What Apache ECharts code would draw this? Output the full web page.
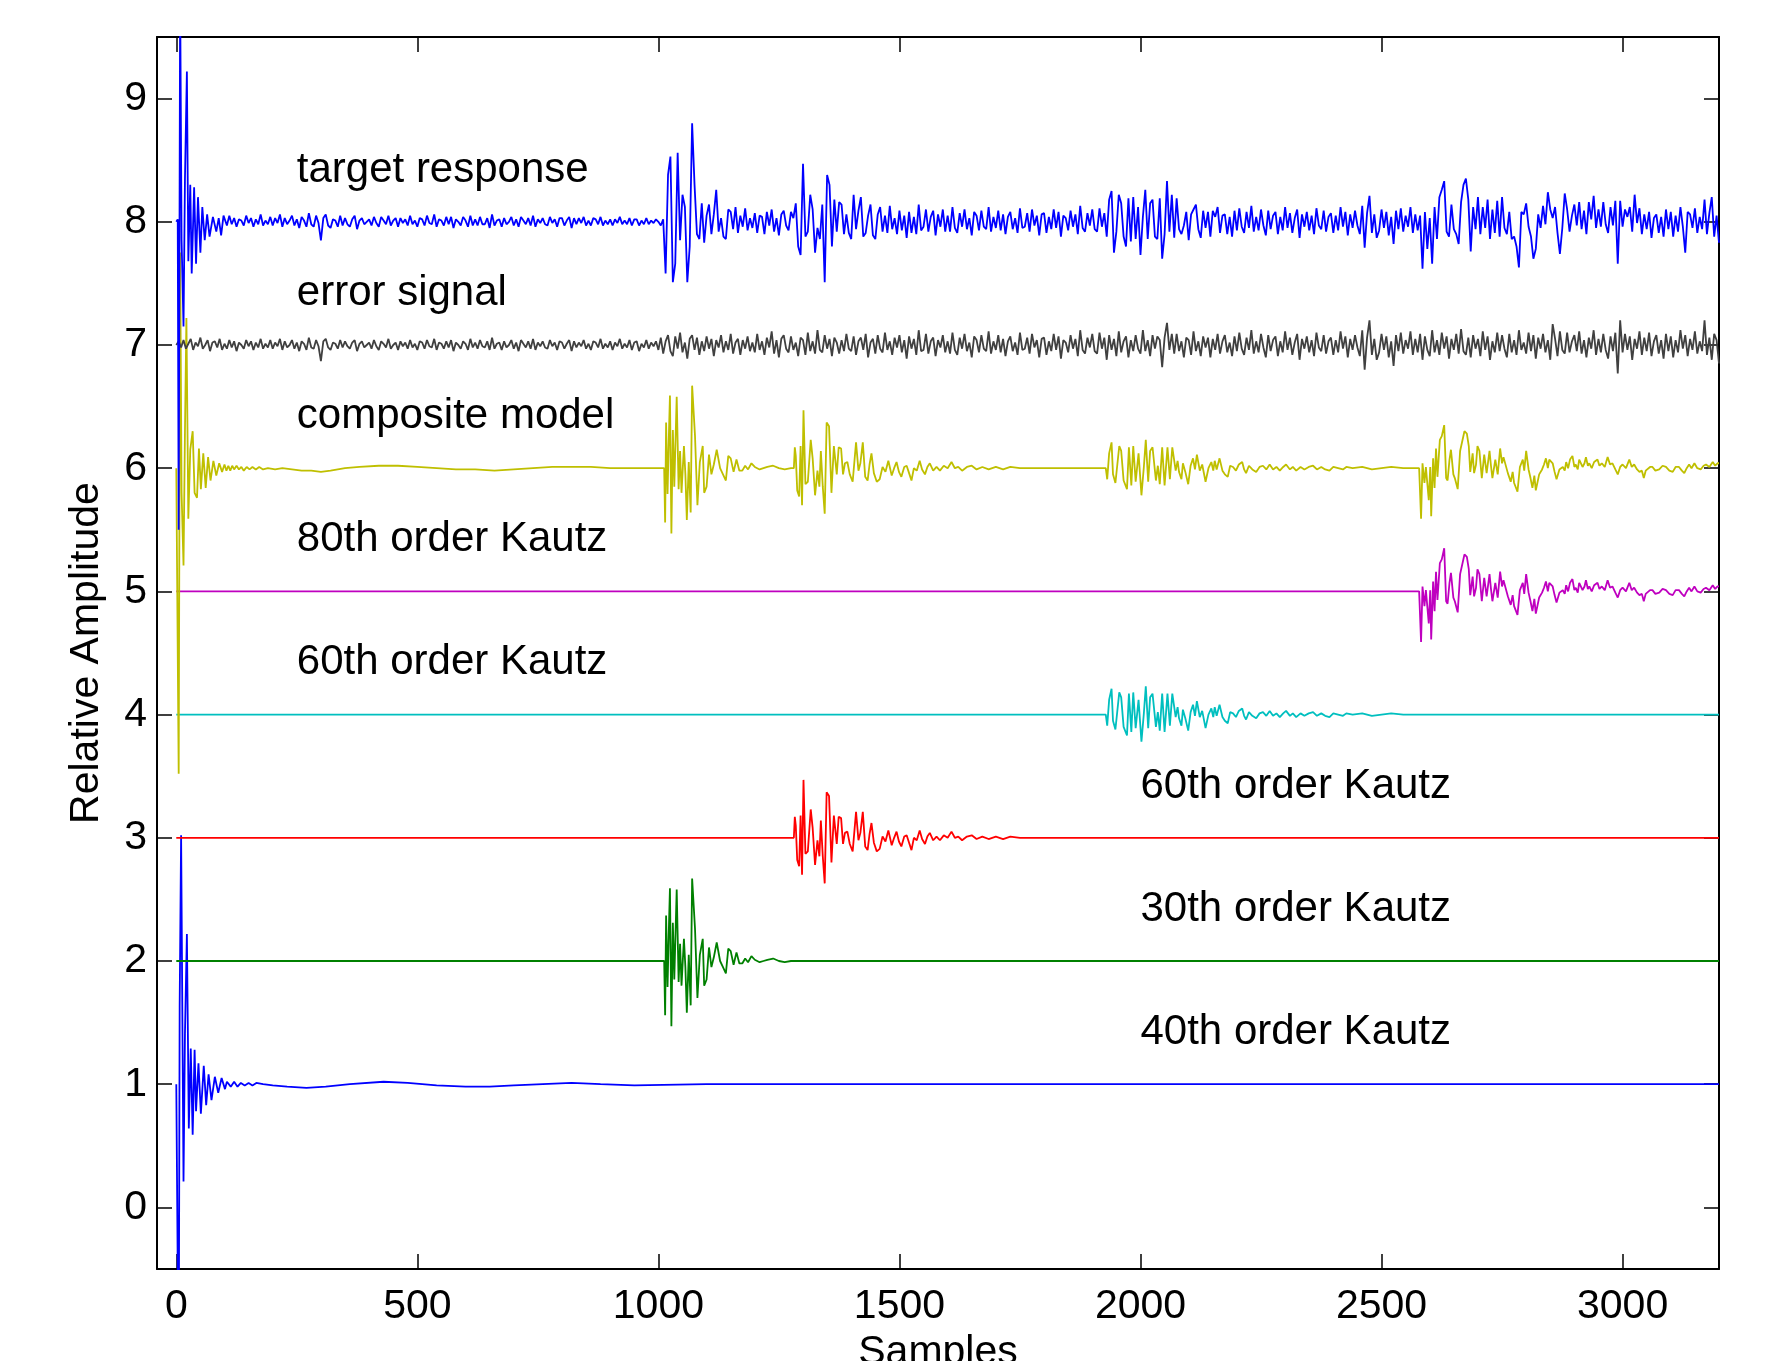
<!DOCTYPE html>
<html>
<head>
<meta charset="utf-8">
<title>Kautz model responses</title>
<script src="https://cdn.jsdelivr.net/npm/echarts@6/dist/echarts.min.js"></script>
<style>
html, body { margin: 0; height: 100%; background: #fff; }
</style>
</head>
<body>
<div id="main" style="width:1765px;height:1361px;"></div>
<script>
// tick labels
var xTicks = [0, 500, 1000, 1500, 2000, 2500, 3000];
var yTicks = [0, 1, 2, 3, 4, 5, 6, 7, 8, 9];

// every trace is drawn around its own baseline
var offsets = { target: 8, error: 7, composite: 6, k80: 5, k60a: 4, k60b: 3, k30: 2, k40: 1 };

// values are deviations in hundredths of an amplitude unit
var UNIT = 0.01;
// sample spacing of the "body" lists
var STEP = 5;

// text labels: [sample, amplitude, text]
var labels = [
  [250, 8.42, 'target response'],
  [250, 7.42, 'error signal'],
  [250, 6.42, 'composite model'],
  [250, 5.42, '80th order Kautz'],
  [250, 4.42, '60th order Kautz'],
  [2000, 3.42, '60th order Kautz'],
  [2000, 2.42, '30th order Kautz'],
  [2000, 1.42, '40th order Kautz']
];

// target response: onset as [sample, value], then values every STEP samples from 100
var targetHead = [[0,0],[3,2],[5,-250],[8,185],[11,-15],[15,-85],[18,35],[22,122],[25,-32],[29,30],[32,-42],[37,28],[41,-34],[45,20],[50,-25],[54,12],[59,-15],[64,6],[69,-12],[76,4],[83,-8],[88,3],[93,-11],[98,5]];
var targetBody = [
  4,-3,5,-2,3,-4,2,1,-3,5,-1,3,-4,2,-2,6,-3,1,-2,4,
  -3,3,-1,6,-4,3,-2,1,5,-3,2,-5,4,1,-4,7,-2,-4,5,-1,
  -15,3,6,-3,-5,2,1,-4,5,-3,3,-2,-4,2,5,-6,1,3,-2,0,
  2,-3,4,-1,-4,4,1,-2,5,-3,1,3,-4,3,-1,2,-3,5,-2,1,
  -4,3,2,-3,5,-1,-2,6,-4,2,1,-3,4,-2,4,-5,2,0,-3,4,
  1,-4,5,-3,2,-3,4,-2,-2,3,-5,6,-3,1,2,-4,3,-2,0,4,
  -3,2,-4,4,1,-2,3,-3,5,-4,2,-1,3,-2,-3,4,-1,2,-4,3,
  3,-3,1,4,-5,3,-2,3,-1,4,-3,1,-3,3,2,-2,4,-3,1,-2,
  2,-3,2,-1,4,-2,1,-2,3,-3,2,2,-3,1,-2,3,-2,1,-1,2,
  0,-3,2,-42,38,53,-49,-34,56,-15,22,12,-49,-20,80,30,-10,-14,15,-17,
  5,14,-10,6,26,-8,3,-12,-14,10,8,-6,12,-9,5,-4,11,-7,3,-5,
  7,-9,5,4,-10,8,-3,10,-8,3,-11,6,9,-3,-7,8,3,15,-20,-27,
  47,-12,-8,22,10,-25,-5,-14,14,-49,38,30,-20,18,-8,16,14,-10,6,-9,
  -14,22,-6,9,20,-12,-9,5,14,-11,-14,6,12,-8,5,-9,13,-6,3,-10,
  9,-7,5,-13,8,-9,4,-10,14,-7,-4,10,-8,4,9,-11,6,-4,10,-8,
  5,-8,12,-5,-9,7,-4,10,-6,3,-11,8,5,-7,9,-4,-6,12,-8,4,
  -5,9,-7,6,-10,4,8,-6,3,-9,11,-5,-4,7,-8,10,-3,5,-11,6,
  7,-9,4,-6,10,-5,8,-12,5,3,-7,9,-4,6,-10,13,-5,-8,7,-3,
  10,-6,-8,11,-4,7,-12,18,25,-25,-8,22,15,-12,-20,19,-16,20,-14,12,
  -27,4,26,-14,15,18,-12,-14,19,-30,-10,33,-8,22,-13,19,-6,-10,-3,8,
  -15,6,10,14,-6,-13,9,-5,8,-12,9,4,12,-9,5,6,-10,4,-12,9,
  -7,11,-4,-9,8,-5,13,-8,4,-7,10,-3,-11,9,-6,5,8,-10,4,-7,
  12,-5,7,-9,3,10,-13,6,-4,8,-7,5,-10,11,-3,-6,9,-8,4,7,
  -9,5,-7,12,-4,8,-11,6,-5,9,-3,-10,13,-21,7,21,-9,6,-13,-7,
  10,-5,8,-11,4,-18,9,-6,11,-8,5,-4,12,-9,6,-7,5,-38,8,-22,
  3,-34,12,-14,20,26,33,-8,-12,14,-6,-10,-18,16,30,35,18,-24,12,-6,
  20,-10,12,-5,18,-14,10,-9,17,-12,20,-5,-10,8,-14,-12,-20,-37,8,6,
  15,-4,-12,-30,-22,6,-5,13,-2,24,10,3,12,-9,-26,-5,23,10,-8,5,
  14,-3,16,-6,9,-10,16,2,21,-5,10,-4,16,-2,-9,12,-3,17,-34,17,
  -4,10,4,12,-8,22,-1,11,-10,6,-6,8,-13,3,6,-9,4,-12,10,-6,
  8,-12,5,-8,12,-4,-25,8,6,-5,11,-9,4,-6,18,-10,7,20,-12,5,
  -17
];

// error signal: values every STEP samples from 0
var errorBody = [
  0,3,-2,4,-3,1,5,-4,2,-1,6,-3,0,4,-5,2,3,-2,5,-4,
  1,-3,4,-2,3,-5,2,0,-3,4,-1,3,-4,2,-2,5,-3,1,-2,4,
  -3,2,-1,5,-4,3,-2,0,4,-3,2,-5,3,1,-4,6,-2,-3,4,-1,
  -13,3,5,-2,-4,2,1,-3,4,-2,3,-1,-3,2,4,-5,1,3,-2,0,
  2,-3,4,-1,-4,3,1,-2,5,-3,0,2,-4,3,-1,2,-3,4,-2,1,
  -4,3,2,-3,4,-1,-2,5,-4,2,1,-3,3,-2,4,-5,2,0,-3,3,
  1,-4,5,-2,2,-3,4,-1,-2,3,-4,6,-3,1,2,-4,3,-2,0,4,
  -3,2,-5,4,1,-2,3,-3,5,-4,2,-1,3,-2,-3,4,-1,2,-4,3,
  2,-3,1,4,-5,3,-2,2,-1,4,-3,1,-4,3,2,-2,5,-3,1,-2,
  3,-4,2,-1,5,-3,1,-2,4,-4,2,3,-5,1,-2,4,-3,2,-1,3,
  -4,6,-7,3,8,-5,-9,7,-3,10,-6,2,-11,5,8,-4,6,-8,3,-5,
  7,-3,5,-9,4,-2,8,-6,3,-4,9,-7,2,5,-8,4,-3,7,-5,2,
  -6,9,-4,3,-8,6,-2,11,-7,4,-10,5,8,-3,-6,7,-4,2,-9,6,
  4,-8,10,-5,3,-7,12,-4,-6,8,-3,5,-9,6,2,-7,4,-5,9,-3,
  -5,7,-8,3,6,-4,9,-10,2,5,-7,8,-3,-6,10,-4,3,-8,6,-2,
  8,-6,4,-11,7,-3,5,-8,12,-5,-4,9,-7,3,6,-9,4,-2,8,-6,
  3,-7,10,-4,-8,6,-3,9,-5,2,-10,7,4,-6,8,-3,-5,11,-7,3,
  -4,8,-6,5,-9,3,7,-5,2,-8,10,-4,-3,6,-7,9,-2,4,-10,5,
  6,-8,3,-5,9,-4,7,-11,4,2,-6,8,-3,5,-9,12,-4,-7,6,-2,
  9,-5,-7,10,-3,6,-12,8,-4,5,-9,11,-6,3,7,-10,4,-5,8,-3,
  -7,12,-5,4,-9,8,-3,7,4,-18,6,18,-4,9,-7,9,-5,3,-10,6,
  4,-8,11,-5,3,-9,7,-2,6,-10,5,-4,9,-7,3,8,-6,2,-9,7,
  -5,10,-3,-8,6,-4,12,-7,3,-6,9,-2,-10,8,-5,4,7,-9,3,-6,
  11,-4,6,-8,2,9,-12,5,-3,7,-6,4,-9,10,-2,-5,8,-7,3,6,
  -8,4,-6,11,-3,7,-10,5,-4,8,-2,-9,12,-20,6,20,-8,5,-12,-6,
  9,-4,7,-10,3,-17,8,-5,10,-7,4,-3,11,-8,5,-6,9,-12,7,-4,
  -9,12,-6,4,-8,10,-3,7,-11,5,-4,9,-7,13,-5,-8,6,-10,8,-3,
  5,-9,11,-4,7,-12,3,-6,10,-5,8,-3,-10,9,-6,4,-8,12,-4,2,
  -7,10,-5,8,-11,6,-3,9,-6,4,-12,17,5,-9,11,-4,-7,10,-6,3,
  8,-5,11,-7,4,-10,6,-3,12,-8,5,-6,9,-4,-11,7,-5,10,-23,20,
  -6,9,-4,7,-12,5,-3,11,-8,6,-5,10,-9,3,8,-7,4,-11,9,-5,
  7,-10,4,-6,12,-3,8,-9,5,-4,11,-7,3,-5,20,-8,6,-12,9,4,
  -15
];

// composite model: [sample, value]
var composite = [
  [0,0],[3,0],[5,-248],[8,175],[11,-20],[15,-79],[18,30],[21,122],[25,-41],[29,15],[34,30],[38,-20],[43,-24],[47,16],[51,-17],[56,12],[61,-16],[66,9],[71,-10],[77,6],[83,-6],[89,4],[95,-3],
  [100,3],[104,-2],[108,2],[112,-2],[116,2],[120,-1],[125,2],[130,-1],[135,1],[140,-2],[146,1],[152,-1],[158,1],[165,-1],[172,1],[180,-1],[190,0],[205,-1],[220,0],[240,-1],[260,-2],[280,-2],[300,-3],[320,-2],[350,0],[380,1],[420,2],[460,2],[500,1],[540,0],[580,-1],[620,-1],[660,-2],[700,-1],[740,0],[780,1],[820,1],[860,1],[900,0],[1012,0],
  [1014,-44],[1016,37],[1019,-21],[1022,30],[1024,59],[1027,-53],[1030,31],[1033,-15],[1038,58],[1042,-17],[1045,14],[1048,-20],[1053,18],[1056,-5],[1059,-42],[1063,5],[1067,-36],[1070,67],[1076,26],[1081,-30],[1086,5],[1092,18],[1095,-20],[1100,-15],[1105,11],[1110,-5],[1115,3],[1121,15],[1128,0],[1134,-5],[1140,-10],[1145,10],[1150,8],[1156,-3],[1162,7],[1168,-2],[1174,-2],[1180,2],[1186,-1],[1193,4],[1200,1],[1210,-1],[1218,0],[1226,1],[1238,2],[1250,0],[1262,-1],[1275,0],[1281,0],
  [1283,17],[1285,10],[1288,-18],[1292,-23],[1295,18],[1298,-30],[1301,47],[1305,-13],[1310,-11],[1316,23],[1320,8],[1325,-22],[1330,-2],[1334,-15],[1337,14],[1341,-15],[1345,-37],[1349,37],[1354,34],[1359,-20],[1364,18],[1370,-5],[1374,17],[1379,16],[1383,-5],[1387,4],[1392,5],[1397,-5],[1403,-11],[1410,21],[1415,-2],[1419,4],[1424,21],[1429,-7],[1434,-10],[1438,3],[1442,12],[1447,-4],[1453,-11],[1459,-9],[1465,1],[1471,-3],[1477,6],[1484,-6],[1489,0],[1494,5],[1499,-3],[1504,-7],[1510,1],[1515,2],[1520,-4],[1525,-10],[1530,0],[1536,-2],[1542,6],[1547,-1],[1553,-5],[1558,1],[1563,4],[1570,-2],[1577,1],[1584,-2],[1592,2],[1600,0],[1608,5],[1615,0],[1622,1],[1630,-2],[1640,1],[1650,2],[1660,-1],[1672,1],[1685,-1],[1700,1],[1715,-1],[1730,1],[1750,0],[1928,0],
  [1931,-9],[1935,12],[1940,21],[1943,-5],[1948,-12],[1952,3],[1956,18],[1960,14],[1965,-10],[1972,-17],[1976,17],[1981,-14],[1985,18],[1990,-11],[1996,12],[2002,-22],[2007,1],[2011,23],[2016,-11],[2020,14],[2025,17],[2032,-10],[2036,2],[2040,-13],[2045,17],[2050,-14],[2056,17],[2061,-9],[2066,17],[2073,-2],[2077,6],[2080,-3],[2085,-9],[2088,4],[2093,-3],[2099,-13],[2104,2],[2109,8],[2113,-1],[2117,11],[2123,-2],[2128,3],[2135,-11],[2141,0],[2147,5],[2151,-2],[2154,6],[2158,-1],[2164,8],[2170,-2],[2175,-5],[2181,-7],[2186,2],[2192,1],[2198,-2],[2204,3],[2211,5],[2215,-1],[2219,-4],[2225,2],[2232,-1],[2240,-3],[2247,1],[2254,2],[2261,-1],[2268,3],[2275,-1],[2282,1],[2289,-2],[2296,1],[2302,3],[2310,-1],[2316,1],[2323,-2],[2332,1],[2340,-1],[2349,1],[2358,2],[2366,-1],[2375,1],[2383,-1],[2392,-2],[2400,1],[2410,0],[2420,-1],[2427,1],[2440,0],[2460,1],[2480,-1],[2500,0],[2520,1],[2545,0],[2578,0],
  [2582,-41],[2585,4],[2589,-12],[2592,1],[2598,-26],[2601,1],[2603,-39],[2607,8],[2610,-16],[2613,16],[2616,-7],[2621,23],[2625,26],[2630,35],[2634,-8],[2637,-10],[2641,7],[2644,15],[2649,-5],[2652,-8],[2658,-17],[2663,14],[2667,15],[2672,30],[2677,28],[2681,18],[2684,-3],[2689,12],[2692,-4],[2696,3],[2699,18],[2703,14],[2708,-8],[2713,11],[2718,-4],[2724,14],[2727,2],[2730,-8],[2736,7],[2741,-5],[2746,16],[2750,4],[2753,9],[2757,9],[2762,-4],[2768,-11],[2772,-3],[2775,-12],[2782,-19],[2787,1],[2793,7],[2796,-2],[2800,14],[2805,-1],[2809,-8],[2813,-16],[2817,-6],[2820,-18],[2827,-5],[2833,-1],[2837,3],[2841,8],[2845,0],[2848,7],[2855,4],[2859,-3],[2863,-9],[2869,-1],[2876,1],[2880,-2],[2883,5],[2887,0],[2891,7],[2896,10],[2900,1],[2903,3],[2907,-1],[2910,7],[2917,1],[2921,4],[2924,9],[2928,2],[2931,4],[2936,0],[2941,5],[2948,7],[2952,2],[2957,4],[2963,1],[2969,9],[2974,3],[2979,4],[2985,-1],[2990,-5],[2995,1],[3000,3],[3007,0],[3014,7],[3019,1],[3024,3],[3030,-1],[3035,-3],[3040,-2],[3044,-8],[3048,-2],[3052,-3],[3057,1],[3062,1],[3068,-2],[3076,-1],[3083,2],[3090,1],[3097,-2],[3104,-3],[3110,1],[3117,1],[3123,-2],[3128,-4],[3133,0],[3138,3],[3143,0],[3149,4],[3155,0],[3162,-1],[3168,2],[3173,3],[3180,1],[3187,5],[3192,2],[3197,4],[3200,4]
];

// 80th order Kautz
var kautz80 = [
  [0,0],[2578,0],[2582,-41],[2585,4],[2589,-12],[2592,1],[2598,-26],[2601,1],[2603,-39],[2607,8],[2610,-16],[2613,16],[2616,-7],[2621,23],[2625,26],[2630,35],[2634,-8],[2637,-10],[2641,7],[2644,15],[2649,-5],[2652,-8],[2658,-17],[2663,14],[2667,15],[2672,30],[2677,28],[2681,18],[2684,-3],[2689,12],[2692,-4],[2696,3],[2699,18],[2703,14],[2708,-8],[2713,11],[2718,-4],[2724,14],[2727,2],[2730,-8],[2736,7],[2741,-5],[2746,16],[2750,4],[2753,9],[2757,9],[2762,-4],[2768,-11],[2772,-3],[2775,-12],[2782,-19],[2787,1],[2793,7],[2796,-2],[2800,14],[2805,-1],[2809,-8],[2813,-16],[2817,-6],[2820,-18],[2827,-5],[2833,-1],[2837,3],[2841,8],[2845,0],[2848,7],[2855,4],[2859,-3],[2863,-9],[2869,-1],[2876,1],[2880,-2],[2883,5],[2887,0],[2891,7],[2896,10],[2900,1],[2903,3],[2907,-1],[2910,7],[2917,1],[2921,4],[2924,9],[2928,2],[2931,4],[2936,0],[2941,5],[2948,7],[2952,2],[2957,4],[2963,1],[2969,9],[2974,3],[2979,4],[2985,-1],[2990,-5],[2995,1],[3000,3],[3007,0],[3014,7],[3019,1],[3024,3],[3030,-1],[3035,-3],[3040,-2],[3044,-8],[3048,-2],[3052,-3],[3057,1],[3062,1],[3068,-2],[3076,-1],[3083,2],[3090,1],[3097,-2],[3104,-3],[3110,1],[3117,1],[3123,-2],[3128,-4],[3133,0],[3138,3],[3143,0],[3149,4],[3155,0],[3162,-1],[3168,2],[3173,3],[3180,1],[3187,5],[3192,2],[3197,4],[3200,4]
];

// 60th order Kautz (upper, around 4)
var kautz60a = [
  [0,0],[1928,0],[1931,-9],[1935,12],[1940,21],[1943,-5],[1948,-12],[1952,3],[1956,18],[1960,14],[1965,-10],[1972,-17],[1976,17],[1981,-14],[1985,18],[1990,-11],[1996,12],[2002,-22],[2007,1],[2011,23],[2016,-11],[2020,14],[2025,17],[2032,-10],[2036,2],[2040,-13],[2045,17],[2050,-14],[2056,17],[2061,-9],[2066,17],[2073,-2],[2077,6],[2080,-3],[2085,-9],[2088,4],[2093,-3],[2099,-13],[2104,2],[2109,8],[2113,-1],[2117,11],[2123,-2],[2128,3],[2135,-11],[2141,0],[2147,5],[2151,-2],[2154,6],[2158,-1],[2164,8],[2170,-2],[2175,-5],[2181,-7],[2186,2],[2192,1],[2198,-2],[2204,3],[2211,5],[2215,-1],[2219,-4],[2225,2],[2232,-1],[2240,-3],[2247,1],[2254,2],[2261,-1],[2268,3],[2275,-1],[2282,1],[2289,-2],[2296,1],[2302,3],[2310,-1],[2316,1],[2323,-2],[2332,1],[2340,-1],[2349,1],[2358,2],[2366,-1],[2375,1],[2383,-1],[2392,-2],[2400,1],[2410,0],[2420,-1],[2427,1],[2440,0],[2460,1],[2480,-1],[2500,0],[2520,1],[2545,0],[3200,0]
];

// 60th order Kautz (lower, around 3)
var kautz60b = [
  [0,0],[1281,0],[1283,17],[1285,10],[1288,-18],[1292,-23],[1295,18],[1298,-30],[1301,47],[1305,-13],[1310,-11],[1316,23],[1320,8],[1325,-22],[1330,-2],[1334,-15],[1337,14],[1341,-15],[1345,-37],[1349,37],[1354,34],[1359,-20],[1364,18],[1370,-5],[1374,17],[1379,16],[1383,-5],[1387,4],[1392,5],[1397,-5],[1403,-11],[1410,21],[1415,-2],[1419,4],[1424,21],[1429,-7],[1434,-10],[1438,3],[1442,12],[1447,-4],[1453,-11],[1459,-9],[1465,1],[1471,-3],[1477,6],[1484,-6],[1489,0],[1494,5],[1499,-3],[1504,-7],[1510,1],[1515,2],[1520,-4],[1525,-10],[1530,0],[1536,-2],[1542,6],[1547,-1],[1553,-5],[1558,1],[1563,4],[1570,-2],[1577,1],[1584,-2],[1592,2],[1600,0],[1608,5],[1615,0],[1622,1],[1630,-2],[1640,1],[1650,2],[1660,-1],[1672,1],[1685,-1],[1700,1],[1715,-1],[1730,1],[1750,0],[3200,0]
];

// 30th order Kautz
var kautz30 = [
  [0,0],[1012,0],[1014,-44],[1016,37],[1019,-21],[1022,30],[1024,59],[1027,-53],[1030,31],[1033,-15],[1038,58],[1042,-17],[1045,14],[1048,-20],[1053,18],[1056,-5],[1059,-42],[1063,5],[1067,-36],[1070,67],[1076,26],[1081,-30],[1086,5],[1092,18],[1095,-20],[1100,-15],[1105,11],[1110,-5],[1115,3],[1121,15],[1128,0],[1134,-5],[1140,-10],[1145,10],[1150,8],[1156,-3],[1162,7],[1168,-2],[1174,-2],[1180,2],[1186,-1],[1193,4],[1200,1],[1210,-1],[1218,0],[1226,1],[1238,2],[1250,0],[1262,-1],[1275,0],[3200,0]
];

// 40th order Kautz
var kautz40 = [
  [0,0],[3,0],[5,-250],[7,63],[10,202],[15,-79],[18,41],[22,122],[26,-36],[30,29],[34,-41],[38,28],[41,-22],[46,17],[51,-24],[57,15],[62,-17],[67,8],[73,-13],[80,6],[87,-7],[94,5],[101,-4],[105,2],[109,3],[113,-2],[116,-2],[120,2],[123,2],[127,-2],[130,-2],[134,1],[138,2],[142,-1],[146,-1],[150,1],[154,2],[158,-1],[162,-1],[166,1],[170,1],[180,0],[200,-1],[230,-2],[270,-3],[310,-2],[360,0],[430,2],[480,1],[540,-1],[600,-2],[650,-2],[700,-1],[760,0],[820,1],[880,0],[950,-1],[1100,0],[3200,0]
];

function fromPairs(list, base) {
  return list.map(function (p) { return [p[0], base + p[1] * UNIT]; });
}
function fromSteps(start, list, base) {
  return list.map(function (v, i) { return [start + i * STEP, base + v * UNIT]; });
}

var font = "'Liberation Sans', Arial, Helvetica, sans-serif";
var plain = function (v) { return String(v); };

function line(name, data, color) {
  return {
    name: name,
    type: 'line',
    data: data,
    xAxisIndex: 0,
    yAxisIndex: 0,
    symbol: 'none',
    showSymbol: false,
    lineStyle: { width: 1.8, color: color },
    itemStyle: { color: color },
    emphasis: { disabled: true },
    animation: false
  };
}

var myChart = echarts.init(document.getElementById('main'));

var option = {
  backgroundColor: '#fff',
  animation: false,
  grid: { left: 157, right: 46, top: 37, bottom: 92, containLabel: false, outerBoundsMode: 'none' },
  xAxis: [{
    type: 'value', min: -40, max: 3200, position: 'bottom',
    name: 'Samples', nameLocation: 'middle', nameGap: 62,
    nameTextStyle: { fontSize: 41, color: '#000', fontFamily: font },
    axisLine: { show: true, onZero: false, lineStyle: { color: '#000', width: 2 } },
    axisTick: { show: true, inside: true, length: 15, customValues: xTicks, lineStyle: { color: '#000', width: 1.5 } },
    axisLabel: { customValues: xTicks, formatter: plain, fontSize: 41, color: '#000', fontFamily: font, margin: 17 },
    splitLine: { show: false }
  }, {
    type: 'value', min: -40, max: 3200, position: 'top',
    axisLine: { show: true, onZero: false, lineStyle: { color: '#000', width: 2 } },
    axisTick: { show: true, inside: true, length: 15, customValues: xTicks, lineStyle: { color: '#000', width: 1.5 } },
    axisLabel: { show: false },
    splitLine: { show: false }
  }],
  yAxis: [{
    type: 'value', min: -0.5, max: 9.5, position: 'left',
    name: 'Relative Amplitude', nameLocation: 'middle', nameGap: 50,
    nameTextStyle: { fontSize: 41, color: '#000', fontFamily: font },
    axisLine: { show: true, onZero: false, lineStyle: { color: '#000', width: 2 } },
    axisTick: { show: true, inside: true, length: 15, customValues: yTicks, lineStyle: { color: '#000', width: 1.5 } },
    axisLabel: { customValues: yTicks, formatter: plain, fontSize: 41, color: '#000', fontFamily: font, margin: 10 },
    splitLine: { show: false }
  }, {
    type: 'value', min: -0.5, max: 9.5, position: 'right',
    axisLine: { show: true, onZero: false, lineStyle: { color: '#000', width: 2 } },
    axisTick: { show: true, inside: true, length: 15, customValues: yTicks, lineStyle: { color: '#000', width: 1.5 } },
    axisLabel: { show: false },
    splitLine: { show: false }
  }],
  series: [
    line('40th order Kautz', fromPairs(kautz40, offsets.k40), '#0000ff'),
    line('30th order Kautz', fromPairs(kautz30, offsets.k30), '#008000'),
    line('60th order Kautz (3)', fromPairs(kautz60b, offsets.k60b), '#ff0000'),
    line('60th order Kautz (4)', fromPairs(kautz60a, offsets.k60a), '#00bfbf'),
    line('80th order Kautz', fromPairs(kautz80, offsets.k80), '#bf00bf'),
    line('composite model', fromPairs(composite, offsets.composite), '#bfbf00'),
    line('error signal', fromSteps(0, errorBody, offsets.error), '#404040'),
    line('target response', fromPairs(targetHead, offsets.target).concat(fromSteps(100, targetBody, offsets.target)), '#0000ff'),
    {
      type: 'scatter',
      data: labels,
      xAxisIndex: 0,
      yAxisIndex: 0,
      symbolSize: 0,
      silent: true,
      animation: false,
      z: 10,
      itemStyle: { opacity: 1 },
      label: {
        show: true,
        position: [0, 0],
        align: 'left',
        verticalAlign: 'middle',
        fontSize: 42,
        color: '#000',
        opacity: 1,
        textBorderWidth: 0,
        fontFamily: font,
        formatter: function (p) { return p.data[2]; }
      }
    }
  ]
};

myChart.setOption(option);
</script>
</body>
</html>
